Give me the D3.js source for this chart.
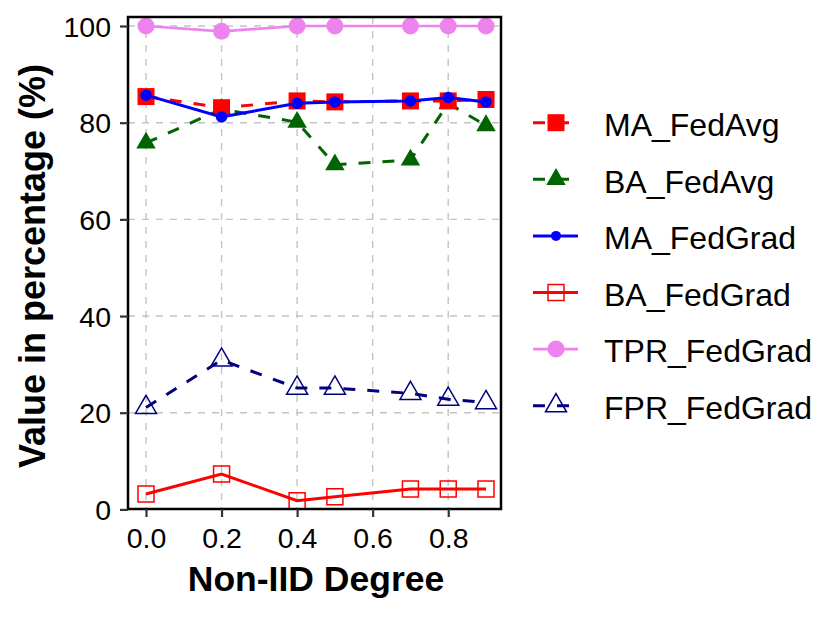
<!DOCTYPE html>
<html><head><meta charset="utf-8">
<script src="https://cdn.jsdelivr.net/npm/d3@7"></script>
<style>body{margin:0;background:#fff}svg{display:block}text{font-family:"Liberation Sans",Arial,sans-serif}</style>
</head><body><svg id="c" width="830" height="617"></svg>
<script>
const xVals = [0, 0.2, 0.4, 0.5, 0.7, 0.8, 0.9];
const MA_FedAvg  = [85.4, 83.1, 84.5, 84.3, 84.5, 84.5, 84.8];
const BA_FedAvg  = [75.8, 82.8, 80.1, 71.3, 72.3, 84.0, 79.4];
const MA_FedGrad = [85.7, 81.2, 84.0, 84.3, 84.5, 85.2, 84.3];
const BA_FedGrad = [3.2, 7.3, 1.8, 2.6, 4.2, 4.2, 4.2];
const TPR_FedGrad = [100, 98.9, 100, 100, 100, 100, 100];
const FPR_FedGrad = [21.1, 30.9, 25.1, 25.1, 24.0, 22.8, 22.1];
const xTicks = [0, 0.2, 0.4, 0.6, 0.8];
const xTickLabels = ["0.0", "0.2", "0.4", "0.6", "0.8"];
const yTicks = [0, 20, 40, 60, 80, 100];
const legendOrder = ["MA_FedAvg", "BA_FedAvg", "MA_FedGrad", "BA_FedGrad", "TPR_FedGrad", "FPR_FedGrad"];

const series = {
  MA_FedAvg:  {vals: MA_FedAvg,  color: "#FF0000", dash: "12,12", shape: "sq",  fill: true,  size: 17},
  BA_FedAvg:  {vals: BA_FedAvg,  color: "#006400", dash: "12,12", shape: "tri", fill: true,  size: 19.5},
  MA_FedGrad: {vals: MA_FedGrad, color: "#0000FF", dash: null,    shape: "circ", fill: true, size: 11.5, lsize: 10},
  BA_FedGrad: {vals: BA_FedGrad, color: "#FF0000", dash: null,    shape: "sq",  fill: false, size: 16},
  TPR_FedGrad:{vals: TPR_FedGrad,color: "#EE82EE", dash: null,    shape: "circ", fill: true, size: 17, lw: 2.7},
  FPR_FedGrad:{vals: FPR_FedGrad,color: "#000080", dash: "12,12", shape: "tri", fill: false, size: 21}
};
const drawOrder = ["FPR_FedGrad", "BA_FedGrad", "TPR_FedGrad", "BA_FedAvg", "MA_FedAvg", "MA_FedGrad"];

const svg = d3.select("#c");
const P = {l: 128, r: 501, t: 17, b: 509};
const x = d3.scaleLinear().domain([0, 0.9]).range([146, 486]);
const y = d3.scaleLinear().domain([0, 100]).range([509.4, 26]);

// gridlines
const g = svg.append("g");
g.selectAll(".gx").data(xTicks).enter().append("line")
  .attr("x1", d => x(d)).attr("x2", d => x(d)).attr("y1", P.t).attr("y2", P.b)
  .attr("stroke", "#c4c4c4").attr("stroke-width", 1.4).attr("stroke-dasharray", "7,7");
g.selectAll(".gy").data(yTicks).enter().append("line")
  .attr("x1", P.l).attr("x2", P.r).attr("y1", d => y(d)).attr("y2", d => y(d))
  .attr("stroke", "#c4c4c4").attr("stroke-width", 1.4).attr("stroke-dasharray", "7,7");

function symbolPath(shape, s) {
  if (shape === "sq") { const h = s / 2; return `M${-h},${-h}H${h}V${h}H${-h}Z`; }
  if (shape === "tri") { const w = s / 2, r = s * 0.577; return `M0,${-r}L${w},${r/2}L${-w},${r/2}Z`; }
  const r = s / 2; return `M${r},0A${r},${r} 0 1,1 ${-r},0A${r},${r} 0 1,1 ${r},0Z`;
}

const clip = svg.append("clipPath").attr("id", "pc").append("rect")
  .attr("x", P.l).attr("y", P.t).attr("width", P.r - P.l).attr("height", P.b - P.t);
const plot = svg.append("g").attr("clip-path", "url(#pc)");
const line = d3.line().x(d => x(d[0])).y(d => y(d[1]));

drawOrder.forEach(k => {
  const s = series[k];
  const pts = xVals.map((v, i) => [v, s.vals[i]]);
  plot.append("path").attr("d", line(pts)).attr("fill", "none")
    .attr("stroke", s.color).attr("stroke-width", s.lw || 3)
    .attr("stroke-dasharray", s.dash);
  plot.selectAll(null).data(pts).enter().append("path")
    .attr("transform", d => `translate(${x(d[0])},${y(d[1])})`)
    .attr("d", symbolPath(s.shape, s.size))
    .attr("fill", s.fill ? s.color : "none")
    .attr("stroke", s.color).attr("stroke-width", s.fill ? 0 : 1.5);
});

// panel border
svg.append("rect").attr("x", P.l).attr("y", P.t).attr("width", P.r - P.l).attr("height", P.b - P.t)
  .attr("fill", "none").attr("stroke", "#000").attr("stroke-width", 2.5);

// axes
const ax = svg.append("g").attr("transform", `translate(0,${P.b})`)
  .call(d3.axisBottom(x).tickValues(xTicks).tickFormat((d, i) => xTickLabels[i]).tickSize(8).tickPadding(6));
const ay = svg.append("g").attr("transform", `translate(${P.l},0)`)
  .call(d3.axisLeft(y).tickValues(yTicks).tickSize(8).tickPadding(9));
[ax, ay].forEach(a => {
  a.select(".domain").remove();
  a.selectAll(".tick line").attr("stroke", "#333").attr("stroke-width", 2.2);
  a.selectAll(".tick text").attr("fill", "#000").style("font-size", "28.5px")
    .style("font-family", '"Liberation Sans", Arial, sans-serif');
});
ax.selectAll(".tick text").attr("dy", null).attr("y", 39);
ay.selectAll(".tick text").attr("dy", "0.36em");

// titles
svg.append("text").attr("x", 316).attr("y", 591).attr("text-anchor", "middle")
  .style("font-size", "35.5px").style("font-weight", "bold").text("Non-IID Degree");
svg.append("text").attr("transform", "translate(45,266) rotate(-90)").attr("text-anchor", "middle")
  .style("font-size", "36px").style("font-weight", "bold").text("Value in percentage (%)");

// legend
const lg = svg.append("g");
legendOrder.forEach((k, i) => {
  const s = series[k];
  const cy = 122.7 + i * 56.6;
  lg.append("line").attr("x1", 533).attr("x2", 578).attr("y1", cy).attr("y2", cy)
    .attr("stroke", s.color).attr("stroke-width", s.lw || 3).attr("stroke-dasharray", s.dash);
  lg.append("path").attr("transform", `translate(556,${cy})`)
    .attr("d", symbolPath(s.shape, s.lsize || s.size))
    .attr("fill", s.fill ? s.color : "none")
    .attr("stroke", s.color).attr("stroke-width", s.fill ? 0 : 1.5);
  lg.append("text").attr("x", 604).attr("y", cy + 13.3).style("font-size", "32px").attr("fill", "#000").text(k);
});
</script></body></html>
